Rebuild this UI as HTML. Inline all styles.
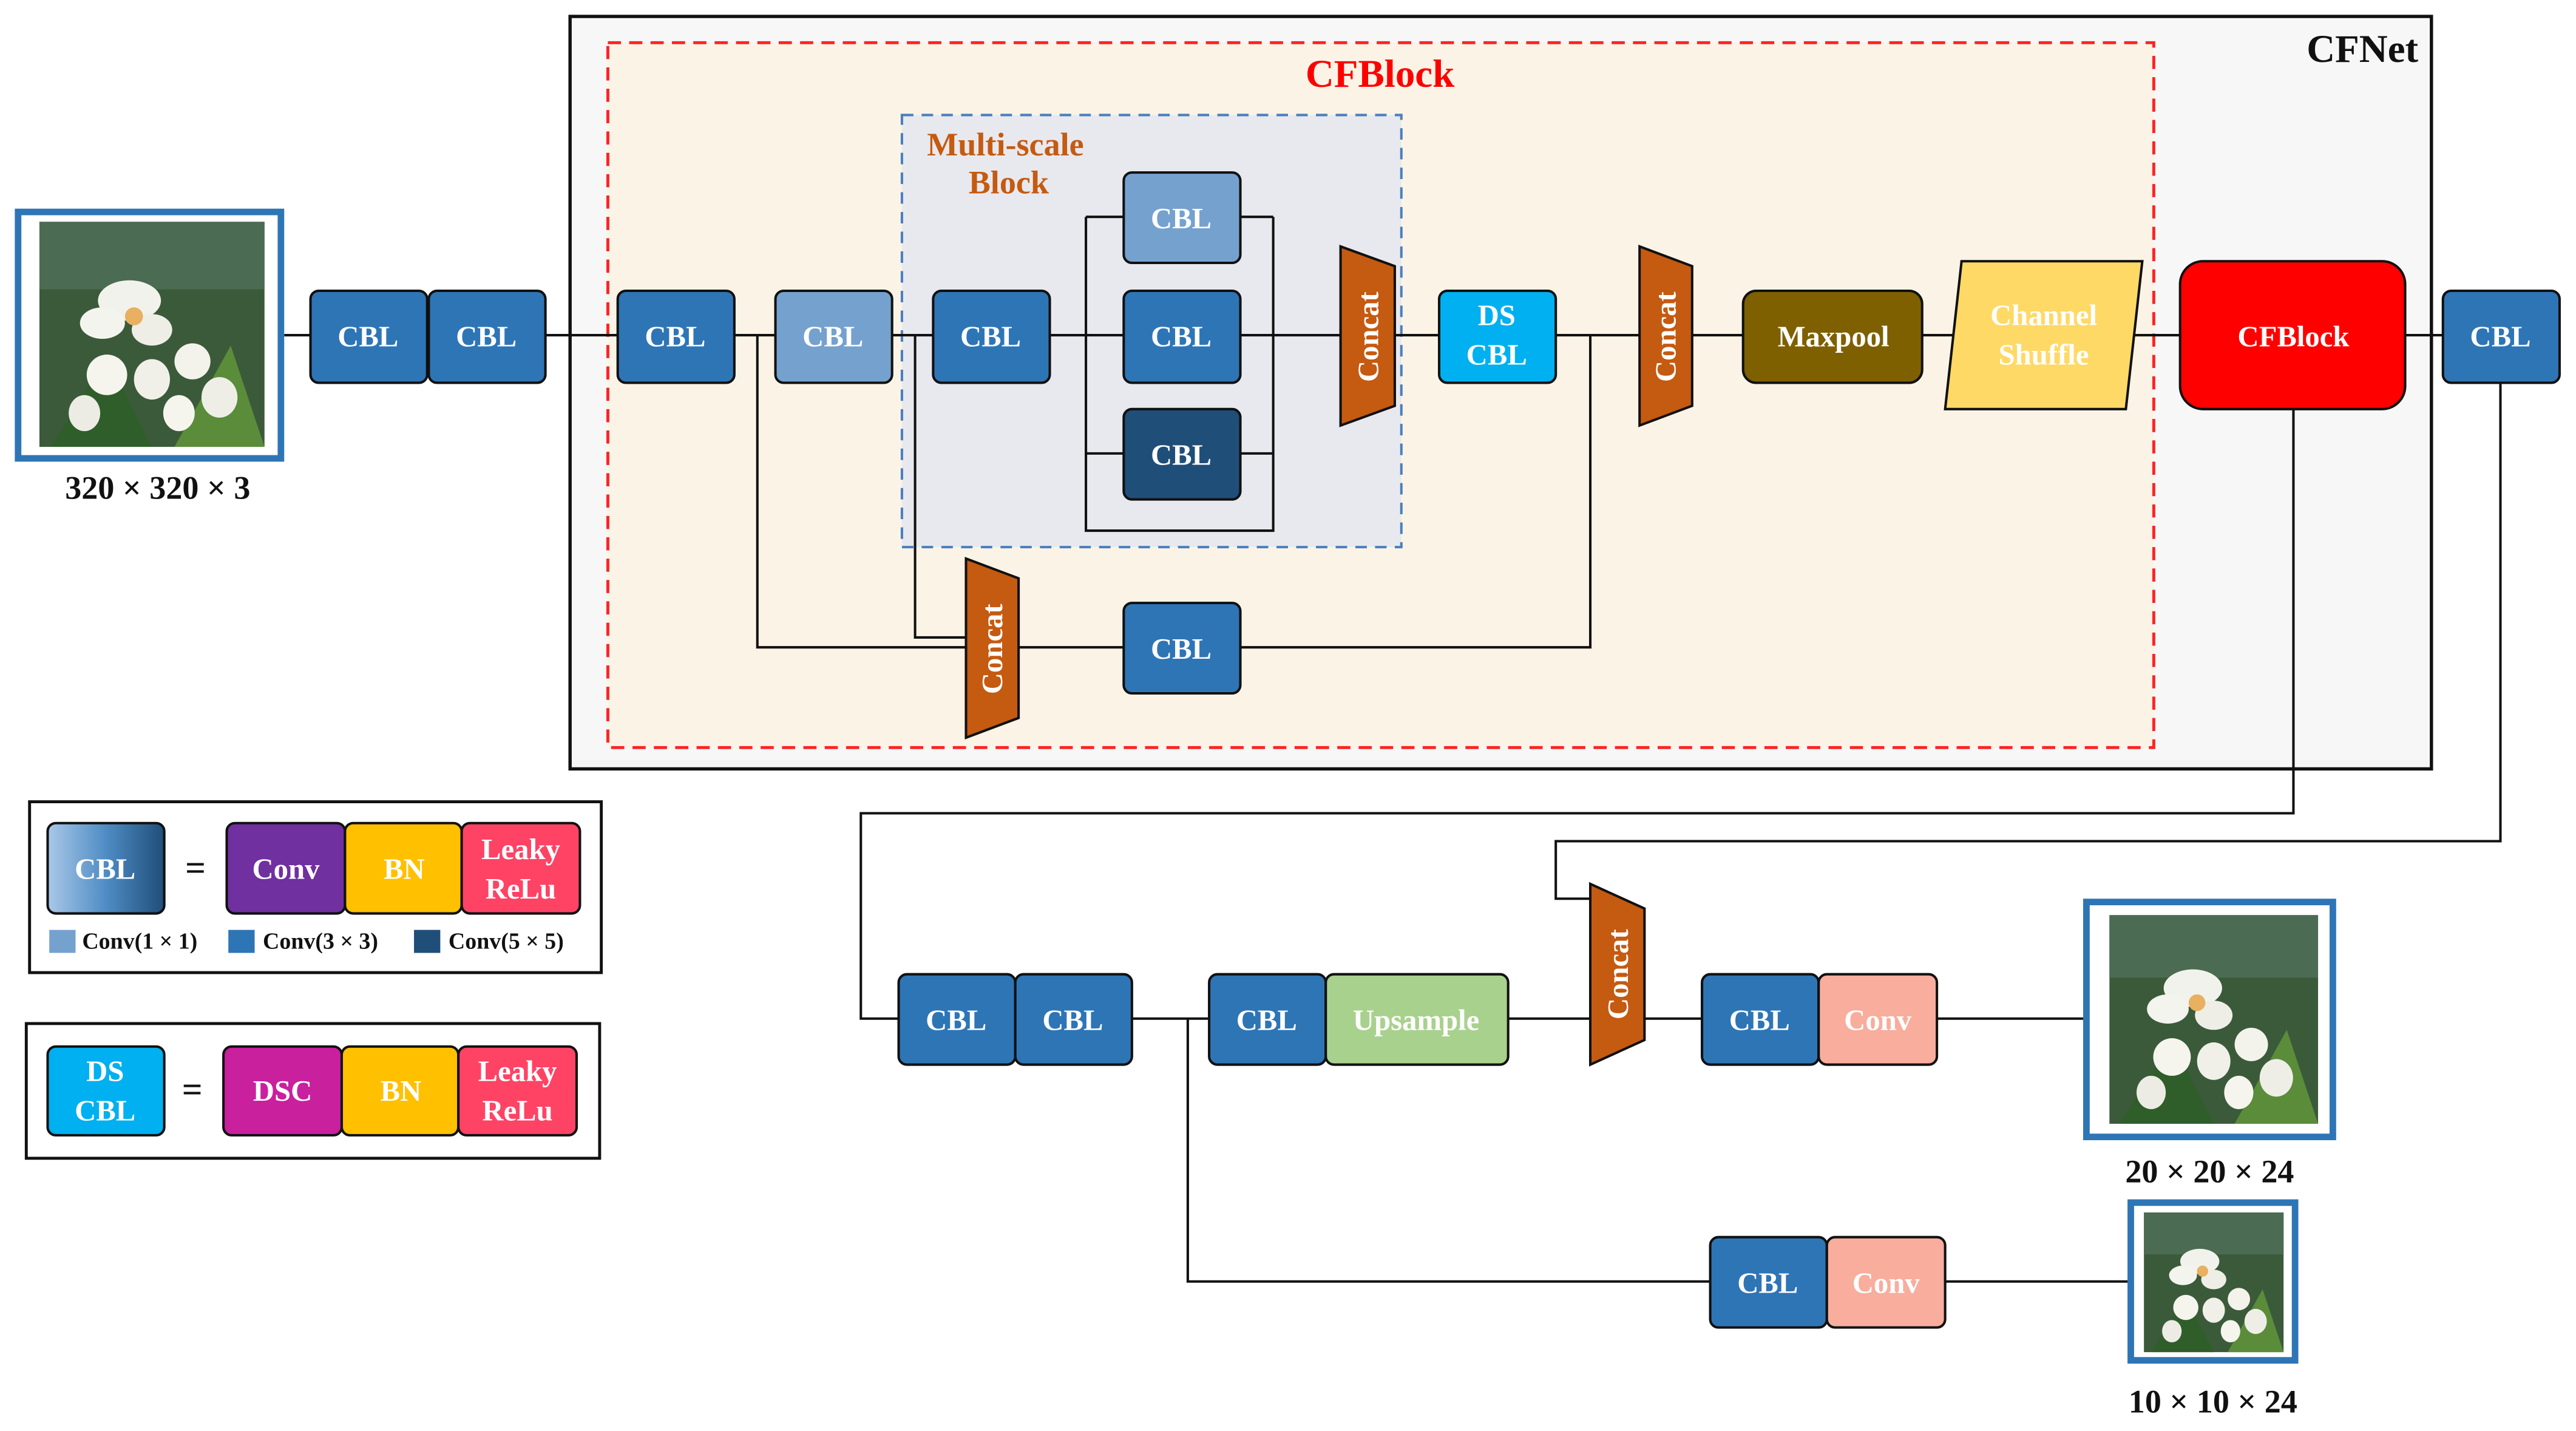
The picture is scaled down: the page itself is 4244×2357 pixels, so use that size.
<!DOCTYPE html>
<html><head><meta charset="utf-8"><style>
html,body{margin:0;padding:0;background:#fff;}
svg{display:block;}
text{font-family:"Liberation Serif",serif;font-weight:bold;}
.w{fill:#fff;font-size:18px;text-anchor:middle;dominant-baseline:central;}
.b{stroke:#111;stroke-width:1.5;}
.l{stroke:#111;stroke-width:1.5;fill:none;}
</style></head><body>
<svg width="4244" height="2357" viewBox="0 0 1568 871" preserveAspectRatio="none" xmlns="http://www.w3.org/2000/svg">
<defs>
<linearGradient id="g" x1="0" x2="1"><stop offset="0" stop-color="#a9c8e8"/><stop offset="0.5" stop-color="#4f8cc4"/><stop offset="1" stop-color="#1f4e79"/></linearGradient>
<g id="img">
<rect x="0" y="0" width="100" height="100" fill="#3b5a3a"/>
<rect x="0" y="0" width="100" height="30" fill="#4b6b52"/>
<path d="M5 100 L30 60 L50 100Z" fill="#2f5e2a"/>
<path d="M60 100 L85 55 L100 100Z" fill="#5a8c3a"/>
<ellipse cx="40" cy="35" rx="14" ry="9" fill="#f2f2ec"/>
<ellipse cx="28" cy="45" rx="10" ry="7" fill="#f4f4ef"/>
<ellipse cx="50" cy="48" rx="9" ry="7" fill="#eeeee6"/>
<circle cx="42" cy="42" r="4" fill="#e8b060"/>
<ellipse cx="30" cy="68" rx="9" ry="9" fill="#f5f5ee"/>
<ellipse cx="50" cy="70" rx="8" ry="9" fill="#f0f0e8"/>
<ellipse cx="68" cy="62" rx="8" ry="8" fill="#f3f3ec"/>
<ellipse cx="80" cy="78" rx="8" ry="9" fill="#eeeee6"/>
<ellipse cx="62" cy="85" rx="7" ry="8" fill="#f5f5ee"/>
<ellipse cx="20" cy="85" rx="7" ry="8" fill="#ecece4"/>
</g>
</defs>

<!-- CFNet box -->
<rect x="347" y="10" width="1133" height="458" fill="#f7f7f7" stroke="#111" stroke-width="2"/>
<text x="1472" y="30" font-size="24" text-anchor="end" dominant-baseline="central" fill="#111">CFNet</text>
<rect x="370" y="26" width="941" height="429" fill="#fbf4e6" stroke="#f22" stroke-width="1.8" stroke-dasharray="8,5"/>
<text x="840" y="45" font-size="24" text-anchor="middle" dominant-baseline="central" fill="#f00">CFBlock</text>
<rect x="549" y="70" width="304" height="263" fill="#e8e9ee" stroke="#4a7fbf" stroke-width="1.5" stroke-dasharray="7,5"/>
<text x="612" y="88" font-size="20" text-anchor="middle" dominant-baseline="central" fill="#c55a11">Multi-scale</text>
<text x="614" y="111" font-size="20" text-anchor="middle" dominant-baseline="central" fill="#c55a11">Block</text>

<!-- connectors -->
<path class="l" d="M173 204 H1487"/>
<path class="l" d="M461 204 V394 H588"/>
<path class="l" d="M557 204 V388 H588"/>
<path class="l" d="M620 394 H684 M755 394 H968 V204"/>
<path class="l" d="M661 132 V323 H775 V132 M661 132 H684 M755 132 H775 M661 276 H684 M755 276 H775"/>
<path class="l" d="M1396 249 V495 H524 V620 H547"/>
<path class="l" d="M1522 233 V512 H947 V547 H968"/>
<path class="l" d="M689 620 H736 M918 620 H968 M1001 620 H1036 M1179 620 H1268"/>
<path class="l" d="M723 620 V780 H1041 M1184 780 H1296"/>

<!-- input image -->
<rect x="11" y="129" width="160" height="150" fill="#fff" stroke="#2e75b6" stroke-width="4"/>
<use href="#img" transform="translate(24,135) scale(1.37,1.37)"/>
<text x="96" y="297" font-size="20" text-anchor="middle" dominant-baseline="central" fill="#111">320 × 320 × 3</text>

<!-- CBL boxes -->
<g class="b">
<rect x="189" y="177" width="71" height="56" rx="5" fill="#2e75b6"/>
<rect x="261" y="177" width="71" height="56" rx="5" fill="#2e75b6"/>
<rect x="376" y="177" width="71" height="56" rx="5" fill="#2e75b6"/>
<rect x="472" y="177" width="71" height="56" rx="5" fill="#75a1cf"/>
<rect x="568" y="177" width="71" height="56" rx="5" fill="#2e75b6"/>
<rect x="684" y="105" width="71" height="55" rx="5" fill="#75a1cf"/>
<rect x="684" y="177" width="71" height="56" rx="5" fill="#2e75b6"/>
<rect x="684" y="249" width="71" height="55" rx="5" fill="#1f4e79"/>
<rect x="684" y="367" width="71" height="55" rx="5" fill="#2e75b6"/>
<rect x="876" y="177" width="71" height="56" rx="5" fill="#00b0f0"/>
<rect x="1061" y="177" width="109" height="56" rx="8" fill="#7f6000"/>
<polygon points="1194,159 1304,159 1294,249 1184,249" fill="#ffd966"/>
<rect x="1327" y="159" width="137" height="90" rx="14" fill="#ff0000"/>
<rect x="1487" y="177" width="71" height="56" rx="5" fill="#2e75b6"/>
<polygon points="816,150 849,162 849,247 816,259" fill="#c55a11"/>
<polygon points="998,150 1030,162 1030,247 998,259" fill="#c55a11"/>
<polygon points="588,340 620,352 620,437 588,449" fill="#c55a11"/>
<polygon points="968,538 1001,553 1001,633 968,648" fill="#c55a11"/>
<rect x="547" y="593" width="71" height="55" rx="5" fill="#2e75b6"/>
<rect x="618" y="593" width="71" height="55" rx="5" fill="#2e75b6"/>
<rect x="736" y="593" width="71" height="55" rx="5" fill="#2e75b6"/>
<rect x="807" y="593" width="111" height="55" rx="5" fill="#a9d18e"/>
<rect x="1036" y="593" width="71" height="55" rx="5" fill="#2e75b6"/>
<rect x="1107" y="593" width="72" height="55" rx="5" fill="#f8ad9d"/>
<rect x="1041" y="753" width="71" height="55" rx="5" fill="#2e75b6"/>
<rect x="1112" y="753" width="72" height="55" rx="5" fill="#f8ad9d"/>
</g>
<text class="w" x="224" y="205">CBL</text>
<text class="w" x="296" y="205">CBL</text>
<text class="w" x="411" y="205">CBL</text>
<text class="w" x="507" y="205">CBL</text>
<text class="w" x="603" y="205">CBL</text>
<text class="w" x="719" y="133">CBL</text>
<text class="w" x="719" y="205">CBL</text>
<text class="w" x="719" y="277">CBL</text>
<text class="w" x="719" y="395">CBL</text>
<text class="w" x="911" y="192">DS</text>
<text class="w" x="911" y="216">CBL</text>
<text class="w" x="1116" y="205">Maxpool</text>
<text class="w" x="1244" y="192">Channel</text>
<text class="w" x="1244" y="216">Shuffle</text>
<text class="w" x="1396" y="205" font-size="22">CFBlock</text>
<text class="w" x="1522" y="205">CBL</text>
<text class="w" transform="translate(833,205) rotate(-90)">Concat</text>
<text class="w" transform="translate(1014,205) rotate(-90)">Concat</text>
<text class="w" transform="translate(604,395) rotate(-90)">Concat</text>
<text class="w" transform="translate(985,593) rotate(-90)">Concat</text>
<text class="w" x="582" y="621">CBL</text>
<text class="w" x="653" y="621">CBL</text>
<text class="w" x="771" y="621">CBL</text>
<text class="w" x="862" y="621">Upsample</text>
<text class="w" x="1071" y="621">CBL</text>
<text class="w" x="1143" y="621">Conv</text>
<text class="w" x="1076" y="781">CBL</text>
<text class="w" x="1148" y="781">Conv</text>

<!-- output images -->
<rect x="1270" y="549" width="150" height="143" fill="#fff" stroke="#2e75b6" stroke-width="4"/>
<use href="#img" transform="translate(1284,557) scale(1.27,1.27)"/>
<text x="1345" y="713" font-size="20" text-anchor="middle" dominant-baseline="central" fill="#111">20 × 20 × 24</text>
<rect x="1297" y="732" width="100" height="96" fill="#fff" stroke="#2e75b6" stroke-width="4"/>
<use href="#img" transform="translate(1305,738) scale(0.85,0.85)"/>
<text x="1347" y="853" font-size="20" text-anchor="middle" dominant-baseline="central" fill="#111">10 × 10 × 24</text>

<!-- legends -->
<rect x="18" y="488" width="348" height="104" fill="#fff" stroke="#111" stroke-width="1.8"/>
<g class="b">
<rect x="29" y="501" width="71" height="55" rx="5" fill="url(#g)"/>
<rect x="138" y="501" width="72" height="55" rx="5" fill="#7030a0"/>
<rect x="210" y="501" width="71" height="55" rx="5" fill="#ffc000"/>
<rect x="281" y="501" width="72" height="55" rx="5" fill="#fe4365"/>
</g>
<text x="119" y="528" font-size="22" text-anchor="middle" dominant-baseline="central" fill="#111">=</text>
<text class="w" x="64" y="529">CBL</text>
<text class="w" x="174" y="529">Conv</text>
<text class="w" x="246" y="529">BN</text>
<text class="w" x="317" y="517">Leaky</text>
<text class="w" x="317" y="541">ReLu</text>
<rect x="30" y="566" width="16" height="14" fill="#75a1cf"/>
<text x="50" y="573" font-size="14" dominant-baseline="central" fill="#111">Conv(1 × 1)</text>
<rect x="139" y="566" width="16" height="14" fill="#2e75b6"/>
<text x="160" y="573" font-size="14" dominant-baseline="central" fill="#111">Conv(3 × 3)</text>
<rect x="252" y="566" width="16" height="14" fill="#1f4e79"/>
<text x="273" y="573" font-size="14" dominant-baseline="central" fill="#111">Conv(5 × 5)</text>

<rect x="16" y="623" width="349" height="82" fill="#fff" stroke="#111" stroke-width="1.8"/>
<g class="b">
<rect x="29" y="637" width="71" height="54" rx="5" fill="#00b0f0"/>
<rect x="136" y="637" width="72" height="54" rx="5" fill="#c9209e"/>
<rect x="208" y="637" width="71" height="54" rx="5" fill="#ffc000"/>
<rect x="279" y="637" width="72" height="54" rx="5" fill="#fe4365"/>
</g>
<text x="117" y="663" font-size="22" text-anchor="middle" dominant-baseline="central" fill="#111">=</text>
<text class="w" x="64" y="652">DS</text>
<text class="w" x="64" y="676">CBL</text>
<text class="w" x="172" y="664">DSC</text>
<text class="w" x="244" y="664">BN</text>
<text class="w" x="315" y="652">Leaky</text>
<text class="w" x="315" y="676">ReLu</text>
</svg>
</body></html>
